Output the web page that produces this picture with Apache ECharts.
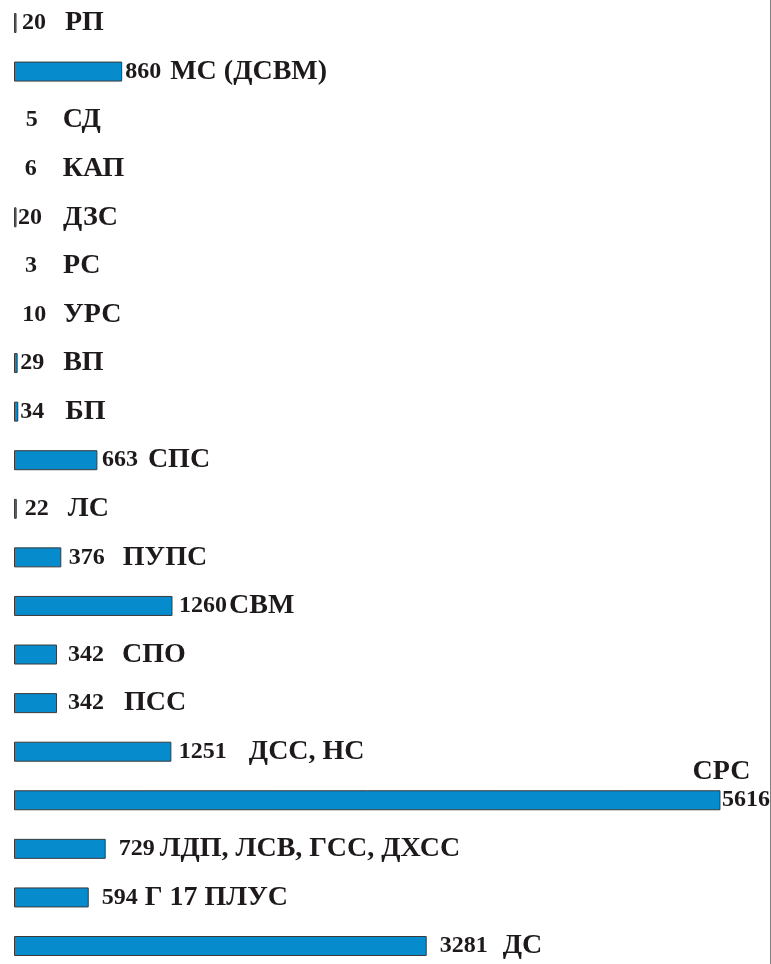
<!DOCTYPE html>
<html>
<head>
<meta charset="utf-8">
<script src="https://cdn.jsdelivr.net/npm/echarts@6/dist/echarts.min.js"></script>
<style>
html,body{margin:0;padding:0;background:#fff;}
#chart{width:771px;height:964px;}
</style>
</head>
<body>
<div id="chart"></div>
<script>
// ---- data ----
var categories = ['РП','МС (ДСВМ)','СД','КАП','ДЗС','РС','УРС','ВП','БП','СПС','ЛС','ПУПС','СВМ','СПО','ПСС','ДСС, НС','СРС','ЛДП, ЛСВ, ГСС, ДХСС','Г 17 ПЛУС','ДС'];
var values = [20,860,5,6,20,3,10,29,34,663,22,376,1260,342,342,1251,5616,729,594,3281];
var nameAboveCategory = 'СРС';

// ---- label layout (style, not data) ----
var valueGap = [5.5,3,11,10,1.5,10.5,7,2.5,2,4.5,8,7.5,6.5,11,11,7.5,1.5,13,13,13];
var nameGap  = [19,9,25,26,21,26,17,19,21,10,19,18,2,18,20,22,0,5,7,15];

var FONT = '"Liberation Serif","Times New Roman",serif';
var TEXT = '#1e1a1b';

var barData = values.map(function(v, i){
  var above = categories[i] === nameAboveCategory;
  return {
    value: v,
    itemStyle: v < 15 ? {borderWidth: 0, color: 'rgba(0,0,0,0)'} : undefined,
    label: {
      show: true,
      position: 'right',
      distance: valueGap[i],
      formatter: above ? '{v|' + v + '}' : '{v|' + v + '}{n|' + categories[i] + '}',
      rich: {
        v: {fontFamily: FONT, fontWeight: 'bold', fontSize: 24, color: TEXT, verticalAlign: 'middle'},
        n: {fontFamily: FONT, fontWeight: 'bold', fontSize: 28, color: TEXT, verticalAlign: 'middle', padding: [0,0,0,nameGap[i]]}
      }
    }
  };
});

var aboveData = values.map(function(v, i){
  return categories[i] === nameAboveCategory ? v : null;
});

var chart = echarts.init(document.getElementById('chart'), null, {renderer: 'canvas'});
chart.setOption({
  animation: false,
  backgroundColor: '#ffffff',
  grid: {left: 14, width: 756, top: -1.3, height: 971.6, containLabel: false, outerBoundsMode: 'none'},
  xAxis: {type: 'value', min: 0, max: 6010, show: false},
  yAxis: {
    type: 'category', data: categories, inverse: true, position: 'right',
    axisLine: {show: true, onZero: false, lineStyle: {color: '#808080', width: 1}},
    axisTick: {show: false}, axisLabel: {show: false}, splitLine: {show: false}
  },
  series: [
    {
      type: 'bar', data: barData, barWidth: 20,
      itemStyle: {color: '#068bcd', borderColor: '#3a3a3a', borderWidth: 1},
      silent: true
    },
    {
      type: 'bar', data: aboveData, barWidth: 20, barGap: '-100%',
      itemStyle: {color: 'rgba(0,0,0,0)'},
      silent: true,
      label: {
        show: true, position: ['100%', 0], align: 'right', verticalAlign: 'bottom',
        offset: [30, -5],
        formatter: function(p){ return categories[p.dataIndex]; },
        fontFamily: FONT, fontWeight: 'bold', fontSize: 28, color: TEXT
      }
    }
  ]
});
</script>
</body>
</html>
